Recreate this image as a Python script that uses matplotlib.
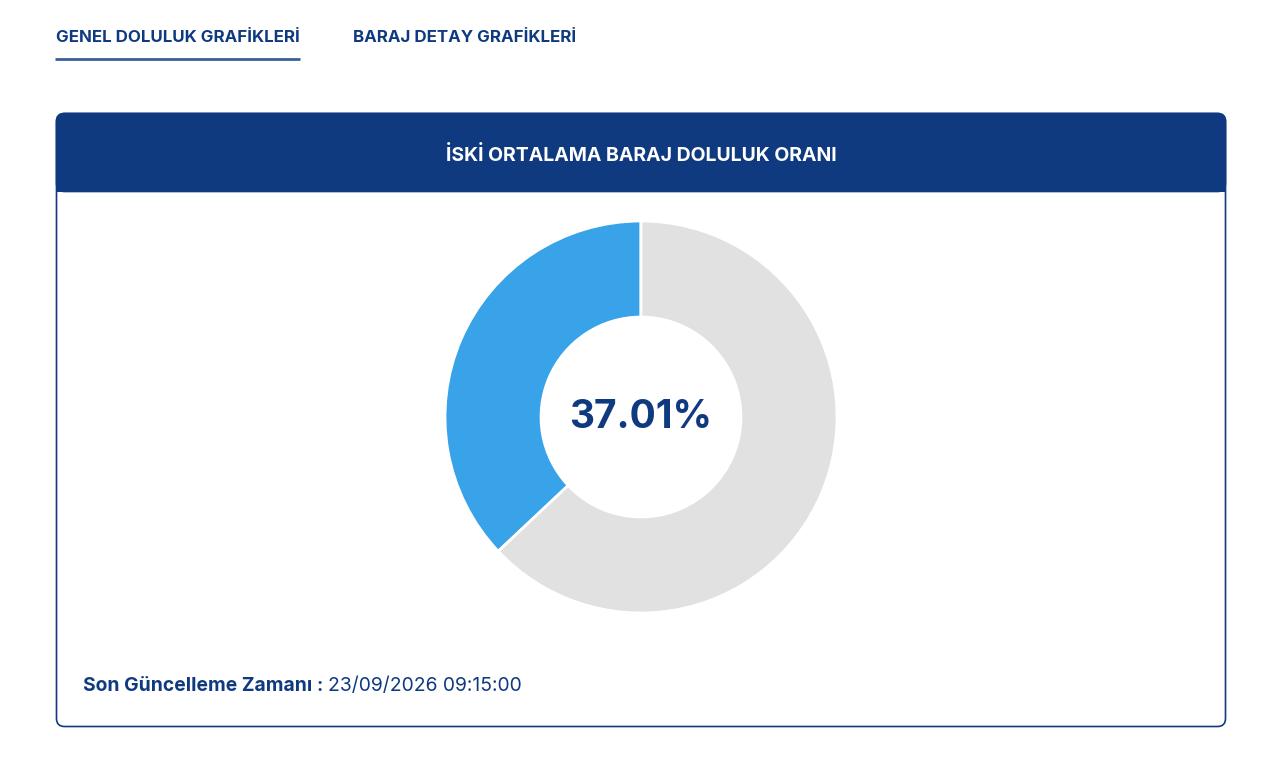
import matplotlib.pyplot as plt
from matplotlib.patches import FancyBboxPatch, Rectangle

# data
segments = ["Doluluk", "Boş"]
values = [37.01, 62.99]
tabs = ["GENEL DOLULUK GRAFİKLERİ", "BARAJ DETAY GRAFİKLERİ"]
title = "İSKİ ORTALAMA BARAJ DOLULUK ORANI"
update_label = "Son Güncelleme Zamanı : "
update_time = "23/09/2026 09:15:00"

navy = "#0f3a80"
blue = "#38a3e8"
grey = "#e1e1e1"
W, H = 1280, 761

plt.rcParams['font.family'] = ['Inter', 'DejaVu Sans']

fig = plt.figure(figsize=(W / 100, H / 100), dpi=100)
bg = fig.add_axes([0, 0, 1, 1])
bg.set_xlim(0, W)
bg.set_ylim(H, 0)
bg.axis("off")

# tabs
bg.text(56, 37.5, tabs[0], fontsize=12.2, fontweight="bold", color=navy, va="center", ha="left")
bg.text(353, 37.5, tabs[1], fontsize=12.2, fontweight="bold", color=navy, va="center", ha="left")
bg.plot([55, 300], [58.5, 58.5], color="#3a5f98", lw=2, solid_capstyle="butt")

# card
card = FancyBboxPatch((56.5, 113.5), 1169, 613, boxstyle="round,pad=0,rounding_size=8",
                      facecolor="white", edgecolor=navy, lw=1.2)
bg.add_patch(card)
head = FancyBboxPatch((56.5, 113.5), 1169, 78, boxstyle="round,pad=0,rounding_size=8",
                      facecolor=navy, edgecolor=navy, lw=1.2)
bg.add_patch(head)
bg.add_patch(Rectangle((56.5, 170), 1169, 21.5, facecolor=navy, edgecolor="none"))
bg.text(641, 155.5, title, fontsize=14, fontweight="bold", color="white", ha="center", va="center")

# footer
t1 = bg.text(83, 686, update_label, fontsize=13.9, fontweight="bold", color=navy, ha="left", va="center")
bg.annotate(update_time, xy=(1, 0.5), xycoords=t1, fontsize=13.9, color=navy,
            ha="left", va="center")

# donut
cx, cy, r = 641, 417, 196
pie_ax = fig.add_axes([(cx - r) / W, (H - cy - r) / H, 2 * r / W, 2 * r / H])
pie_ax.pie(values, colors=[blue, grey], startangle=90, counterclock=True,
           radius=1, wedgeprops=dict(width=0.49, edgecolor="white", linewidth=2))
pie_ax.set_xlim(-1, 1)
pie_ax.set_ylim(-1, 1)
pie_ax.text(0, -0.005, f"{values[0]:.2f}%", fontsize=28, fontweight="bold", color=navy,
            ha="center", va="center")

fig.savefig("out.png", dpi=100)
